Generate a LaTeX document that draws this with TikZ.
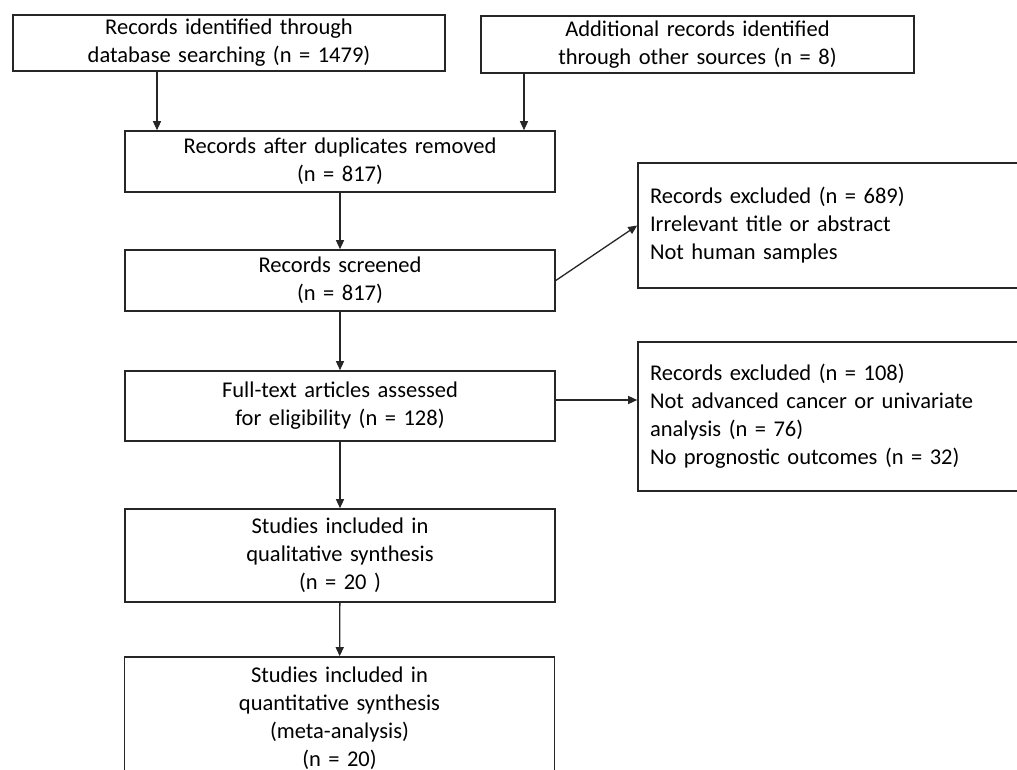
\documentclass[tikz,border=0pt]{standalone}
\usepackage{fontspec}
\setmainfont{Carlito}
\usetikzlibrary{arrows.meta,positioning}

\begin{document}
\begin{tikzpicture}[
    x=1pt, y=-1pt,
    font=\fontsize{22.5}{28}\selectfont,
    box/.style={rectangle, draw=black!85, line width=1.6pt, inner sep=0pt, text width=430pt, align=center},
    note/.style={rectangle, draw=black!85, line width=1.6pt, inner xsep=12pt, inner ysep=0pt, text width=368pt, align=left},
    arrow/.style={line width=1.3pt, draw=black!85, -{Triangle[length=9pt,width=8pt]}}
]
\useasboundingbox (0,0) rectangle (1017,770);
\clip (0,0) rectangle (1017,770);
% Identification
\node[box, text width=432pt, minimum height=56pt] (database) at (229,43) {Records identified through\\ database searching (n = 1479)};
\node[box, text width=433pt, minimum height=57pt] (other) at (697.5,44.5) {Additional records identified\\ through other sources (n = 8)};
% Main flow (left column)
\node[box, minimum height=61pt] (duplicates) at (340,161.5) {Records after duplicates removed\\ (n = 817)};
\node[box, minimum height=61pt] (screened) at (340,280.5) {Records screened\\ (n = 817)};
\node[box, minimum height=70pt] (fulltext) at (340,406) {Full-text articles assessed\\ for eligibility (n = 128)};
\node[box, minimum height=93pt] (qualitative) at (340,555.5) {Studies included in\\ qualitative synthesis\\ (n = 20 )};
\node[box, minimum height=122pt] (quantitative) at (339.5,718) {Studies included in\\ quantitative synthesis\\ (meta-analysis)\\ (n = 20)};
% Exclusions (right column)
\node[note, minimum height=125pt] (excluded1) at (834,225.5) {Records excluded (n = 689)\\ Irrelevant title or abstract\\ Not human samples};
\node[note, minimum height=149pt] (excluded2) at (834,416.5) {Records excluded (n = 108)\\ Not advanced cancer or univariate\\ analysis (n = 76)\\ No prognostic outcomes (n = 32)};
% Arrows - identification
\draw[arrow] ([xshift=-72pt]database.south) -- ([xshift=-72pt]database.south |- duplicates.north);
\draw[arrow] ([xshift=-173.5pt]other.south) -- ([xshift=-173.5pt]other.south |- duplicates.north);
% Arrows - main flow
\draw[arrow] (duplicates) -- (screened);
\draw[arrow] (screened) -- (fulltext);
\draw[arrow] (fulltext) -- (qualitative);
\draw[arrow] (qualitative) -- (quantitative);
% Arrows - exclusions
\draw[arrow] (screened.east) -- (excluded1.west);
\draw[arrow] ([yshift=6pt]fulltext.east) -- ([yshift=6pt]fulltext.east -| excluded2.west);
\end{tikzpicture}
\end{document}
